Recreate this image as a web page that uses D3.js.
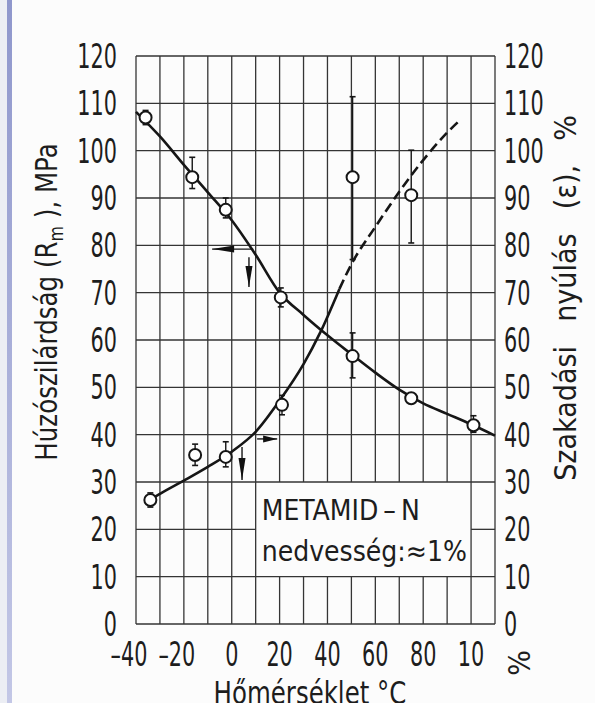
<!DOCTYPE html>
<html>
<head>
<meta charset="utf-8">
<script src="https://cdn.jsdelivr.net/npm/d3@7"></script>
<style>
  html, body { margin: 0; padding: 0; background: #fcfcfc; }
  svg text { font-family: "DejaVu Sans Condensed", "DejaVu Sans", sans-serif; fill: #1d1d1d; }
</style>
</head>
<body>
<div id="graph"></div>
<script>
"use strict";

// temperature axis (°C) - the last label is printed truncated in the original
const xTicks = [-40, -20, 0, 20, 40, 60, 80, 100];
const xTickLabels = ["\u201340", "\u201320", "0", "20", "40", "60", "80", "10"];
const yTicks = [0, 10, 20, 30, 40, 50, 60, 70, 80, 90, 100, 110, 120];

// tensile strength Rm (MPa), measured points with scatter
const rmTemp = [-36, -16.5, -2.5, 20.5, 50.5, 75, 101];
const rmValue = [107, 94.4, 87.5, 69, 56.6, 47.7, 42];
const rmLow = [105.5, 92, 85.8, 67, 52, 46.7, 40.5];
const rmHigh = [108.5, 98.6, 90, 71, 61.5, 48.7, 44];

// fitted Rm curve
const rmCurveTemp = [-40, -30, -20, -10, 0, 10, 20, 30, 40, 50, 60, 70, 80, 90, 100, 110];
const rmCurveValue = [108.2, 103, 97, 91.2, 85.3, 78, 70, 65.3, 61, 57, 53.1, 49.5, 46.6, 44.4, 42.2, 39.8];

// elongation at break (%), measured points with scatter
const epsTemp = [-34, -15.3, -2.5, 21, 50.5, 75];
const epsValue = [26.2, 35.7, 35.3, 46.3, 94.4, 90.6];
const epsLow = [24.7, 33.5, 33.2, 44.2, 77, 80.5];
const epsHigh = [27.7, 38, 38.5, 48.3, 111.4, 100.1];

// fitted elongation curve, solid then extrapolated (dashed)
const epsSolidTemp = [-35, -30, -20, -10, 0, 10, 20, 30, 37, 45];
const epsSolidValue = [26, 27.5, 30.3, 33.2, 36.4, 40.6, 47.2, 54.9, 61.6, 70.8];
const epsDashTemp = [45, 50, 60, 70, 80, 90, 95.5];
const epsDashValue = [70.8, 76, 83.9, 91.3, 98, 103.8, 106.5];

// direction arrows: [fromTemp, fromValue, toTemp, toValue]
const arrows = [
    [9, 79.2, -8.2, 79.2],
    [7.2, 77.5, 7.2, 71.2],
    [10.6, 39.1, 19, 39.1],
    [4.3, 37.4, 4.3, 30.4]
];

const boxLines = ["METAMID\u2009\u2013\u2009N", "nedvesség:\u22481%"];

(function() {
    const svgSize = { width: 595, height: 703 };
    const plot = { left: 136, right: 495, top: 56, bottom: 624 };
    const narrow = 0.7;

    window.addEventListener("load", init);

    function init() {
        let svg = d3.select("#graph")
                    .append("svg")
                        .attr("width", svgSize.width)
                        .attr("height", svgSize.height);

        // scan edge on the left
        let grad = svg.append("defs").append("linearGradient")
                        .attr("id", "edge").attr("x1", 0).attr("x2", 0).attr("y1", 0).attr("y2", 1);
        grad.append("stop").attr("offset", "0%").attr("stop-color", "#8f97cc");
        grad.append("stop").attr("offset", "100%").attr("stop-color", "#c3c7e6");
        svg.append("rect").attr("x", 0).attr("y", 0).attr("width", 7).attr("height", svgSize.height)
            .attr("fill", "#eceef4");
        svg.append("rect").attr("x", 7).attr("y", 0).attr("width", 5).attr("height", svgSize.height)
            .attr("fill", "url(#edge)");

        let x = d3.scaleLinear().domain([-40, 110]).range([plot.left, plot.right]);
        let y = d3.scaleLinear().domain([0, 120]).range([plot.bottom, plot.top]);

        drawGrid(svg, x, y);
        drawAxes(svg, x, y);
        drawSeries(svg, x, y);
        drawBox(svg, x, y);
    }

    function drawGrid(svg, x, y) {
        let g = svg.append("g").attr("stroke", "#353535").attr("stroke-width", 1.3);
        // the label box (10..100 °C, 10..30) blanks the grid behind it
        d3.range(-40, 111, 10).forEach(function(t) {
            let segs = (t > 10 && t < 100) ? [[0, 10], [30, 120]] : [[0, 120]];
            segs.forEach(function(s) {
                g.append("line").attr("x1", x(t)).attr("x2", x(t))
                    .attr("y1", y(s[0])).attr("y2", y(s[1]));
            });
        });
        yTicks.forEach(function(v) {
            let segs = (v === 20) ? [[-40, 10], [100, 110]] : [[-40, 110]];
            segs.forEach(function(s) {
                g.append("line").attr("y1", y(v)).attr("y2", y(v))
                    .attr("x1", x(s[0])).attr("x2", x(s[1]));
            });
        });
    }

    function drawAxes(svg, x, y) {
        let tickFont = 33;
        svg.append("g").selectAll("text").data(yTicks).enter().append("text")
            .attr("transform", (d) => "translate(117," + y(d) + ") scale(" + narrow + ",1)")
            .attr("dy", "0.36em")
            .attr("text-anchor", "end").attr("font-size", tickFont)
            .text((d) => d);
        svg.append("g").selectAll("text").data(yTicks).enter().append("text")
            .attr("transform", (d) => "translate(504," + y(d) + ") scale(" + narrow + ",1)")
            .attr("dy", "0.36em")
            .attr("text-anchor", "start").attr("font-size", tickFont)
            .text((d) => d);
        svg.append("g").selectAll("text").data(xTicks).enter().append("text")
            .attr("transform", (d) => "translate(" + (x(d) + (d < 0 ? -7 : 0)) + ",666) scale(" + narrow + ",1)")
            .attr("text-anchor", "middle").attr("font-size", tickFont)
            .text((d, i) => xTickLabels[i]);

        svg.append("text").attr("transform", "translate(310,704) scale(0.85,1)")
            .attr("text-anchor", "middle").attr("font-size", 32)
            .text("Hőmérséklet °C");

        let left = svg.append("text").attr("transform", "translate(57,302) rotate(-90) scale(0.88,1)")
            .attr("text-anchor", "middle").attr("font-size", 31);
        left.append("tspan").text("Húzószilárdság (R");
        left.append("tspan").attr("font-size", 20).attr("dy", 6).text("m");
        left.append("tspan").attr("dy", -6).text(" ), MPa");

        svg.append("text").attr("transform", "translate(576,298) rotate(-90) scale(0.97,1)")
            .attr("text-anchor", "middle").attr("font-size", 31).attr("word-spacing", 16)
            .text("Szakadási nyúlás (ε), %");

        svg.append("text").attr("transform", "translate(530,663) rotate(-90)")
            .attr("text-anchor", "middle").attr("font-size", 30)
            .text("%");
    }

    function drawSeries(svg, x, y) {
        let line = d3.line().x((d) => x(d[0])).y((d) => y(d[1])).curve(d3.curveMonotoneX);
        let g = svg.append("g").attr("fill", "none").attr("stroke", "#161616").attr("stroke-width", 2.6);

        g.append("path").attr("d", line(d3.zip(rmCurveTemp, rmCurveValue)));
        g.append("path").attr("d", line(d3.zip(epsSolidTemp, epsSolidValue)));
        g.append("path").attr("d", line(d3.zip(epsDashTemp, epsDashValue)))
            .attr("stroke-dasharray", "10,5");

        drawPoints(svg, x, y, rmTemp, rmValue, rmLow, rmHigh);
        drawPoints(svg, x, y, epsTemp, epsValue, epsLow, epsHigh);

        arrows.forEach(function(a) {
            let x1 = x(a[0]), y1 = y(a[1]), x2 = x(a[2]), y2 = y(a[3]);
            let len = Math.hypot(x2 - x1, y2 - y1);
            let ux = (x2 - x1) / len, uy = (y2 - y1) / len;
            let head = Math.min(22, len * 0.7), w = 3.5;
            svg.append("line").attr("x1", x1).attr("y1", y1).attr("x2", x2).attr("y2", y2)
                .attr("stroke", "#161616").attr("stroke-width", 1.4);
            let bx = x2 - ux * head, by = y2 - uy * head;
            svg.append("path")
                .attr("d", "M" + x2 + "," + y2 + "L" + (bx - uy * w) + "," + (by + ux * w) +
                           "L" + (bx + uy * w) + "," + (by - ux * w) + "Z")
                .attr("fill", "#111");
        });
    }

    function drawPoints(svg, x, y, temps, vals, lows, highs) {
        let g = svg.append("g").attr("stroke", "#161616");
        temps.forEach(function(t, i) {
            g.append("line").attr("x1", x(t)).attr("x2", x(t))
                .attr("y1", y(lows[i])).attr("y2", y(highs[i])).attr("stroke-width", 1.4);
            [lows[i], highs[i]].forEach(function(v) {
                g.append("line").attr("x1", x(t) - 3).attr("x2", x(t) + 3)
                    .attr("y1", y(v)).attr("y2", y(v)).attr("stroke-width", 1.6);
            });
            g.append("circle").attr("cx", x(t)).attr("cy", y(vals[i])).attr("r", 6)
                .attr("fill", "#fff").attr("stroke-width", 2);
        });
    }

    function drawBox(svg, x, y) {
        let g = svg.append("g");
        g.append("text").attr("x", x(10) + 6).attr("y", 520).attr("font-size", 28).text(boxLines[0]);
        g.append("text").attr("x", x(10) + 6).attr("y", 561).attr("font-size", 28).text(boxLines[1]);
    }
})();
</script>
</body>
</html>
